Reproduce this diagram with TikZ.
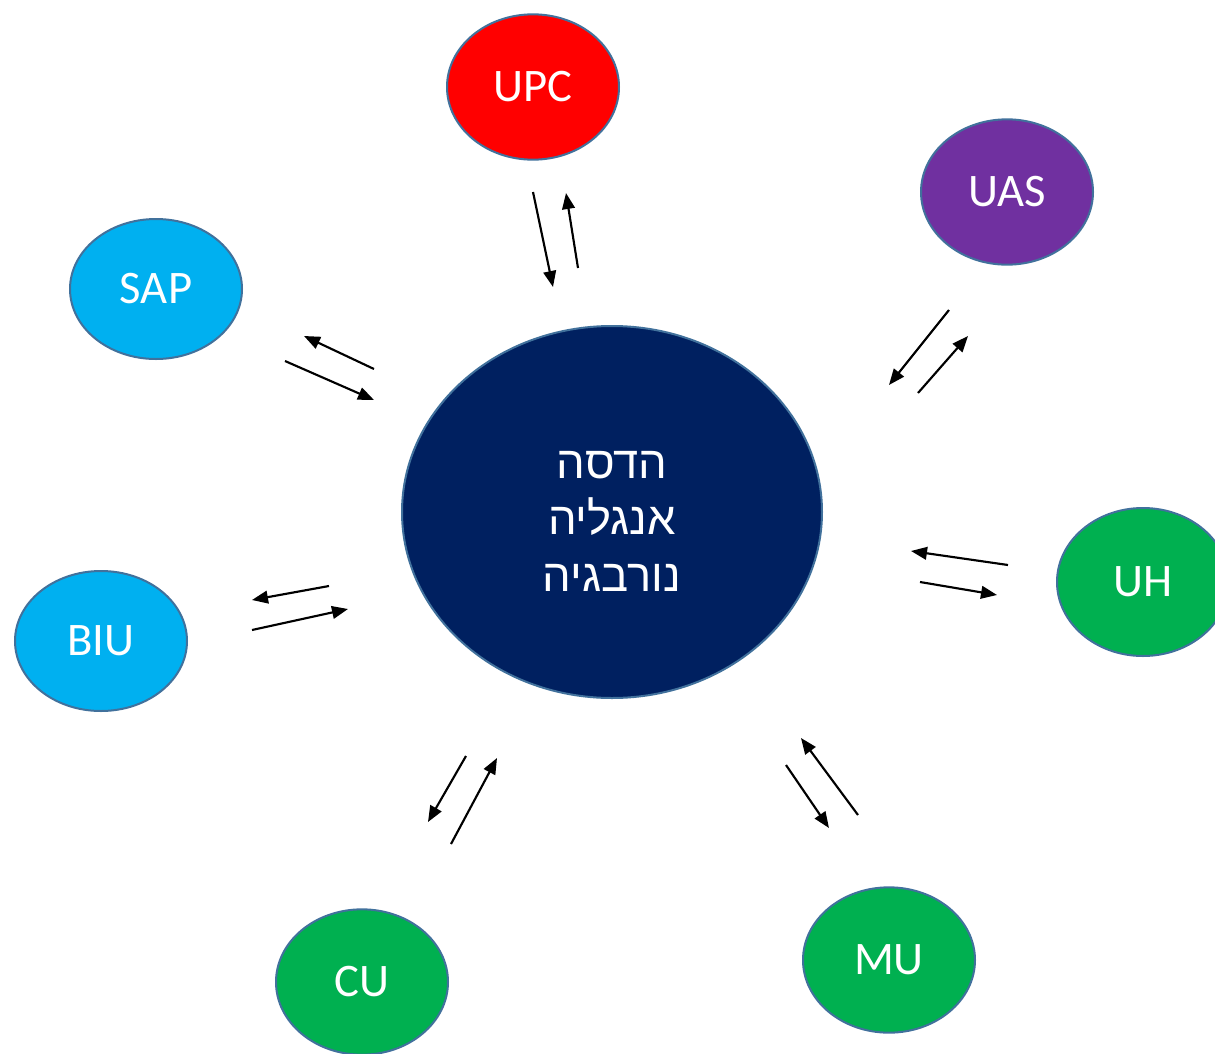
\documentclass[tikz,border=0pt]{standalone}
\usepackage{fontspec}
\setmainfont{Carlito}
\newfontfamily\hebfont[Script=Hebrew]{Liberation Sans}
\TeXXeTstate=1
\usetikzlibrary{shapes.geometric,arrows.meta}
\definecolor{outl}{HTML}{41719C}
\definecolor{upcred}{HTML}{FF0000}
\definecolor{uaspur}{HTML}{7030A0}
\definecolor{skyb}{HTML}{00B0F0}
\definecolor{grn}{HTML}{00B050}
\definecolor{navy}{HTML}{002060}
\tikzset{
  uni/.style={ellipse, draw=outl, line width=1.5pt, inner sep=0pt, text=white,
    minimum width=129pt, minimum height=109pt, font=\fontsize{35}{42}\selectfont},
  flow/.style={-{Triangle[length=12pt,width=9.5pt]}, line width=1.6pt, black}
}
\begin{document}
\begin{tikzpicture}[x=0.75pt,y=-0.75pt]
\useasboundingbox (0,0) rectangle (1215,1054);
\fill[white] (0,0) rectangle (1215,1054);
\node[uni, fill=navy, minimum width=315pt, minimum height=279pt, align=center,
  font=\fontsize{34}{42.5}\selectfont\hebfont] (hub) at (612,512)
  {\rule{0pt}{34pt}\beginR הדסה\endR\\\beginR אנגליה\endR\\\beginR נורבגיה\endR};
\node[uni, fill=upcred] (upc) at (533,87) {UPC};
\node[uni, fill=uaspur] (uas) at (1007,192) {UAS};
\node[uni, fill=skyb, minimum height=105pt] (sap) at (156,289) {SAP};
\node[uni, fill=skyb, minimum height=105pt] (biu) at (101,641) {BIU};
\node[uni, fill=grn, minimum height=111pt] (uh) at (1143,582) {UH};
\node[uni, fill=grn] (cu) at (362,982) {CU};
\node[uni, fill=grn] (mu) at (889,960) {MU};
% arrow end points
\coordinate (a1s) at (533,192); \coordinate (a1e) at (553,287);
\coordinate (a2s) at (578,268); \coordinate (a2e) at (566,193);
\coordinate (b1s) at (949,310); \coordinate (b1e) at (889,385);
\coordinate (b2s) at (918,393); \coordinate (b2e) at (968,336);
\coordinate (c1s) at (374,369); \coordinate (c1e) at (304,336);
\coordinate (c2s) at (285,361); \coordinate (c2e) at (374,400);
\coordinate (d1s) at (329,586); \coordinate (d1e) at (252,600);
\coordinate (d2s) at (252,630); \coordinate (d2e) at (348,609);
\coordinate (e1s) at (1008,565); \coordinate (e1e) at (911,551);
\coordinate (e2s) at (920,582); \coordinate (e2e) at (997,595);
\coordinate (f1s) at (466,756); \coordinate (f1e) at (428,822);
\coordinate (f2s) at (451,844); \coordinate (f2e) at (497,758);
\coordinate (g1s) at (786,765); \coordinate (g1e) at (829,828);
\coordinate (g2s) at (858,815); \coordinate (g2e) at (801,738);
\foreach \p in {a1,a2,b1,b2,c1,c2,d1,d2,e1,e2,f1,f2,g1,g2}
  \draw[flow] (\p s) -- (\p e);
\end{tikzpicture}
\end{document}
